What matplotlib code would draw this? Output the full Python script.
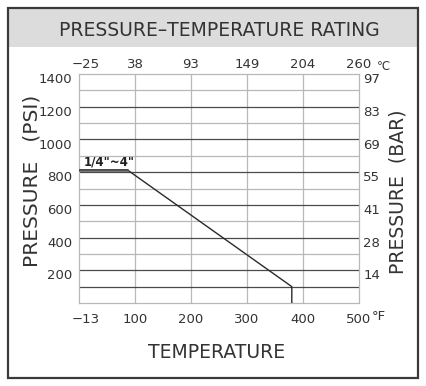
import numpy as np
import matplotlib
matplotlib.use("Agg")
import matplotlib.pyplot as plt
from matplotlib.patches import Rectangle
from matplotlib.transforms import ScaledTranslation

# axis tick values (equally spaced on the chart)
temp_f_ticks = [-13, 100, 200, 300, 400, 500]
temp_c_ticks = [-25, 38, 93, 149, 204, 260]
psi_ticks = [200, 400, 600, 800, 1000, 1200, 1400]
bar_ticks = [14, 28, 41, 55, 69, 83, 97]

# rating curve for 1/4"~4"
curve_temp_f = [-13, 84, 380, 380]
curve_psi = [815, 815, 100, 0]

TXT = "#333333"
DARK = "#4a4a4a"
LIGHT = "#b8b8b8"

plt.rcParams['font.family'] = ['DejaVu Sans']


def fmt(v):
    return str(v).replace("-", "\u2212")


fig = plt.figure(figsize=(4.26, 3.86), dpi=100)
W, H = 426, 386

# title band and outer frame
fig.patches.append(Rectangle((9 / W, 1 - 47 / H), 408 / W, 38 / H,
                             transform=fig.transFigure, facecolor="#dcdcdc",
                             edgecolor="none", zorder=0))
fig.patches.append(Rectangle((8 / W, 1 - 378 / H), 410 / W, 370 / H,
                             transform=fig.transFigure, facecolor="none",
                             edgecolor="#3a3a3a", linewidth=1.6, zorder=5))
fig.text(219 / W, 1 - 30 / H, "PRESSURE\u2013TEMPERATURE RATING", ha="center",
         va="center", fontsize=13.5, color=TXT)

ax = fig.add_axes([79 / W, 1 - 303 / H, 280 / W, 229 / H])
pos = np.arange(len(temp_f_ticks))

ax.set_xlim(0, len(temp_f_ticks) - 1)
ax.set_ylim(0, 1400)

# grid
for p in pos[1:-1]:
    ax.axvline(p, color=LIGHT, lw=0.9, zorder=1)
for v in range(100, 1400, 100):
    if v % 200 == 0 or v == 100:
        ax.axhline(v, color=DARK, lw=0.9, zorder=2)
    else:
        ax.axhline(v, color=LIGHT, lw=0.9, zorder=1)
for s in ax.spines.values():
    s.set_color(LIGHT)
    s.set_linewidth(0.9)

# rating curve, temperatures mapped onto the evenly spaced tick positions
cx = np.interp(curve_temp_f, temp_f_ticks, pos)
ax.plot(cx, curve_psi, color="#2a2a2a", lw=1.0, zorder=3)
ax.plot(cx[:2], curve_psi[:2], color="#555555", lw=1.8, zorder=3)
ax.text(0.08, 822, '1/4"~4"', fontsize=8.5, fontweight="bold", color="#222222",
        va="bottom", ha="left")

# bottom (F) ticks
ax.set_xticks(pos)
ax.set_xticklabels([fmt(t) for t in temp_f_ticks])
ax.tick_params(axis="x", length=0, pad=7, labelsize=9.5, labelcolor=TXT)
# left (psi) ticks
ax.set_yticks(psi_ticks)
ax.set_yticklabels([str(t) for t in psi_ticks])
ax.tick_params(axis="y", length=0, pad=5, labelsize=9.5, labelcolor=TXT)
down = ScaledTranslation(0, -3 / 72, fig.dpi_scale_trans)
for lab in ax.get_yticklabels():
    lab.set_transform(lab.get_transform() + down)
first = ax.get_xticklabels()[0]
first.set_transform(first.get_transform() + ScaledTranslation(5 / 72, 0, fig.dpi_scale_trans))

# top (C) ticks
axt = ax.secondary_xaxis("top")
axt.set_xticks(pos)
axt.set_xticklabels([fmt(t) for t in temp_c_ticks])
axt.tick_params(axis="x", length=0, pad=2, labelsize=9.5, labelcolor=TXT)
axt.spines["top"].set_visible(False)
tl = axt.get_xticklabels()[0]
tl.set_transform(tl.get_transform() + ScaledTranslation(5 / 72, 0, fig.dpi_scale_trans))

# right (bar) ticks
axr = ax.twinx()
axr.set_ylim(ax.get_ylim())
axr.set_yticks(psi_ticks)
axr.set_yticklabels([str(b) for b in bar_ticks])
axr.tick_params(axis="y", length=0, pad=3, labelsize=9.5, labelcolor=TXT)
for s in axr.spines.values():
    s.set_visible(False)
for lab in axr.get_yticklabels():
    lab.set_transform(lab.get_transform() + down)

fig.text(384 / W, 1 - 66 / H, "\u2103", ha="center", va="center", fontsize=8.5, color=TXT)
fig.text(379 / W, 1 - 317 / H, "\u00b0F", ha="center", va="center", fontsize=9.5, color=TXT)

# axis titles
fig.text(32 / W, 1 - 181 / H, "PRESSURE   (PSI)", rotation=90, ha="center", va="center",
         fontsize=14.5, color=TXT)
fig.text(398 / W, 1 - 192 / H, "PRESSURE  (BAR)", rotation=90, ha="center", va="center",
         fontsize=13.5, color=TXT)
fig.text(217 / W, 1 - 353 / H, "TEMPERATURE", ha="center", va="center",
         fontsize=13.5, color=TXT)

fig.savefig("out.png", dpi=100)
